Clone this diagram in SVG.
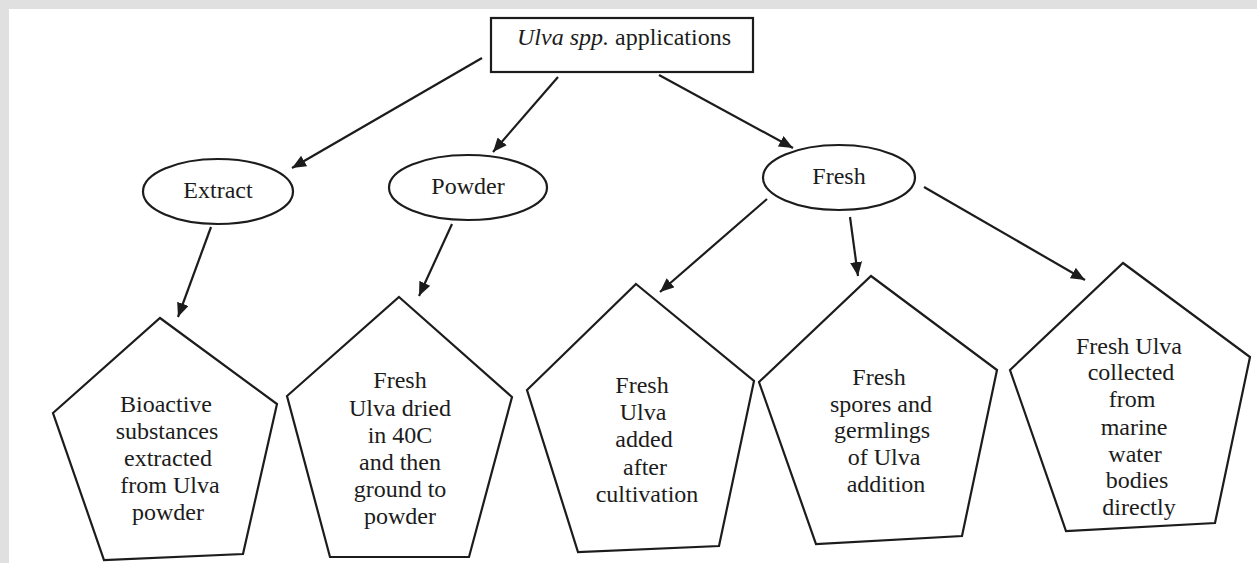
<svg xmlns="http://www.w3.org/2000/svg" width="1257" height="563" viewBox="0 0 1257 563">
<defs>
<style>
.shape{fill:#fff;stroke:#1c1c1c;stroke-width:2.2;stroke-linejoin:miter}
.t{font-family:"Liberation Serif","Times New Roman",serif;font-size:24px;fill:#1c1c1c;text-anchor:middle}
.conn line{stroke:#1c1c1c;stroke-width:2.2;marker-end:url(#ah)}
</style>
<marker id="ah" markerUnits="userSpaceOnUse" markerWidth="14" markerHeight="12" refX="14" refY="6" orient="auto">
<path d="M0,0 L14,6 L0,12 z" fill="#1c1c1c"/>
</marker>
</defs>
<rect x="0" y="0" width="1257" height="563" fill="#e0e0e0"/>
<rect x="9" y="9" width="1248" height="554" fill="#fff"/>

<g id="root">
<rect class="shape" x="491" y="18" width="262" height="54" stroke-width="2.8"/>
<text class="t" x="624" y="45"><tspan font-style="italic">Ulva spp.</tspan> applications</text>
</g>

<g id="extract">
<ellipse class="shape" cx="218" cy="191.5" rx="75" ry="32.5"/>
<text class="t" x="218" y="198">Extract</text>
</g>
<g id="powder">
<ellipse class="shape" cx="468" cy="187.5" rx="79" ry="32.5"/>
<text class="t" x="468" y="194">Powder</text>
</g>
<g id="fresh">
<ellipse class="shape" cx="839" cy="177.5" rx="76" ry="32.5"/>
<text class="t" x="839" y="184">Fresh</text>
</g>

<g id="p1">
<polygon class="shape" points="160,318 277,404 243,554 104,560 53,413"/>
<text class="t" x="166" y="412">Bioactive</text>
<text class="t" x="167" y="439">substances</text>
<text class="t" x="168" y="466">extracted</text>
<text class="t" x="170" y="493">from Ulva</text>
<text class="t" x="168" y="520">powder</text>
</g>
<g id="p2">
<polygon class="shape" points="399,297 512,397 469,557 330,557 287,396"/>
<text class="t" x="400" y="388">Fresh</text>
<text class="t" x="400" y="416">Ulva dried</text>
<text class="t" x="400" y="443">in 40C</text>
<text class="t" x="400" y="470">and then</text>
<text class="t" x="400" y="497">ground to</text>
<text class="t" x="400" y="524">powder</text>
</g>
<g id="p3">
<polygon class="shape" points="636,284 754,381 719,546 578,552 527,390"/>
<text class="t" x="642" y="393">Fresh</text>
<text class="t" x="643" y="420">Ulva</text>
<text class="t" x="644" y="447">added</text>
<text class="t" x="645" y="475">after</text>
<text class="t" x="647" y="502">cultivation</text>
</g>
<g id="p4">
<polygon class="shape" points="871,276 997,370 962,536 816,544 759,382"/>
<text class="t" x="879" y="385">Fresh</text>
<text class="t" x="881" y="412">spores and</text>
<text class="t" x="882" y="438">germlings</text>
<text class="t" x="884" y="465">of Ulva</text>
<text class="t" x="886" y="492">addition</text>
</g>
<g id="p5">
<polygon class="shape" points="1123,263 1250,357 1215,523 1066,531 1010,370"/>
<text class="t" x="1129" y="354">Fresh Ulva</text>
<text class="t" x="1131" y="380">collected</text>
<text class="t" x="1132" y="407">from</text>
<text class="t" x="1134" y="435">marine</text>
<text class="t" x="1135" y="462">water</text>
<text class="t" x="1137" y="488">bodies</text>
<text class="t" x="1139" y="515">directly</text>
</g>

<g id="connectors" class="conn">
<line x1="482" y1="58" x2="292" y2="168"/>
<line x1="558" y1="77" x2="493" y2="152"/>
<line x1="659" y1="75" x2="793" y2="148"/>
<line x1="211" y1="227" x2="178" y2="317"/>
<line x1="452" y1="224" x2="419" y2="296"/>
<line x1="767" y1="199" x2="660" y2="292"/>
<line x1="850" y1="217" x2="858" y2="276"/>
<line x1="924" y1="187" x2="1085" y2="280"/>
</g>
</svg>
